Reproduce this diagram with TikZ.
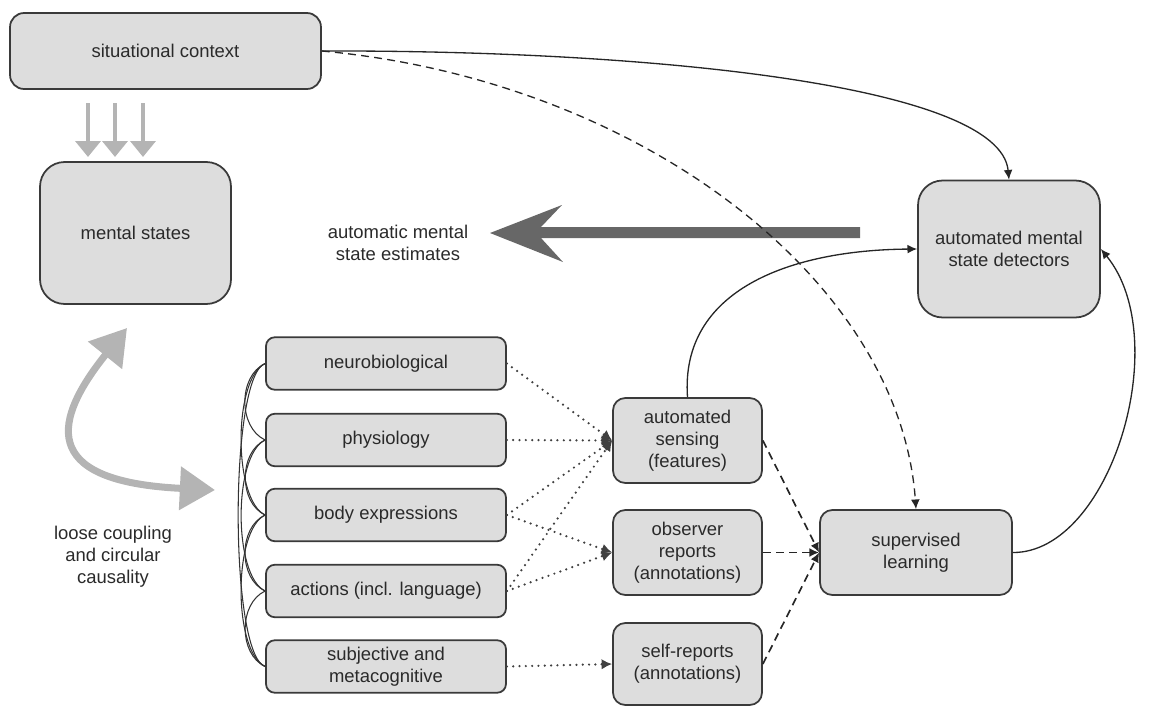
\documentclass[tikz,border=0pt]{standalone}
\usepackage{fontspec}
\setmainfont{Liberation Sans}
\usetikzlibrary{arrows.meta}
\definecolor{boxfill}{HTML}{DDDDDD}
\definecolor{boxdraw}{HTML}{3A3A3A}
\definecolor{txt}{HTML}{2A2A2A}
\definecolor{lgray}{HTML}{B4B4B4}
\definecolor{dgray}{HTML}{676767}
\tikzset{
  box/.style={draw=boxdraw, fill=boxfill, line width=1pt, text=txt, align=center,
    font=\fontsize{10.5}{12.6}\selectfont, inner sep=0pt},
  bigbox/.style={box, rounded corners=14pt},
  midbox/.style={box, rounded corners=7pt},
  sensbox/.style={box, rounded corners=5pt, minimum width=4.8cm, minimum height=1.05cm},
  lbl/.style={text=txt, align=center, font=\fontsize{10.5}{12.6}\selectfont},
  conn/.style={draw=black!85, line width=0.75pt, -{Latex[length=5.5pt,width=5pt]}},
  dashconn/.style={conn, dash pattern=on 4.5pt off 3pt},
  thickdash/.style={conn, line width=0.95pt, dash pattern=on 4.5pt off 3pt},
  dotconn/.style={draw=black!75, line width=1.4pt, dash pattern=on 0pt off 3.6pt, line cap=round,
    -{Latex[length=6pt,width=6pt,line cap=butt]}},
  bracket/.style={draw=black!80, line width=0.6pt},
  gray3/.style={draw=lgray, line width=2.4pt, -{Triangle[length=9pt,width=14pt]}},
}
\begin{document}
\begin{tikzpicture}[x=0.02cm,y=-0.02cm]
\useasboundingbox (0,0) rectangle (1150,707);
% main boxes
\node[box, rounded corners=8pt, minimum width=6.22cm, minimum height=1.52cm] (sit) at (165.5,51) {situational context};
\node[bigbox, minimum width=3.82cm, minimum height=2.84cm] (ment) at (135.5,233) {mental states};
\node[bigbox, minimum width=3.64cm, minimum height=2.74cm] (det) at (1009,249) {automated mental\\state detectors};
% sensor boxes
\node[sensbox] (neuro) at (386,363.5) {neurobiological};
\node[sensbox] (phys) at (386,440) {physiology};
\node[sensbox] (body) at (386,515) {body expressions};
\node[sensbox] (act) at (386,591) {actions (incl. language)};
\node[sensbox] (subj) at (386,666.5) {subjective and\\metacognitive};
% middle boxes
\node[midbox, minimum width=2.98cm, minimum height=1.70cm] (sens) at (687.5,440.5) {automated\\sensing\\(features)};
\node[midbox, minimum width=2.98cm, minimum height=1.70cm] (obs) at (687.5,552.5) {observer\\reports\\(annotations)};
\node[midbox, minimum width=2.98cm, minimum height=1.64cm] (self) at (687.5,664) {self-reports\\(annotations)};
\node[midbox, minimum width=3.84cm, minimum height=1.70cm] (sup) at (916,552.5) {supervised\\learning};
% labels
\node[lbl] (est) at (398,243) {automatic mental\\state estimates};
\node[lbl] (loose) at (113,557) {loose coupling\\and circular\\causality};
% big dark arrow
\fill[dgray] (490,233) -- (562,205) -- (541,227) -- (860,227) -- (860,238) -- (541,238) -- (563,262) -- cycle;
% three gray arrows
\foreach \xx in {88,115,143} { \draw[gray3] (\xx,103) -- (\xx,157); }
% curved gray double arrow
\draw[draw=lgray, line width=4pt, {Triangle[length=20pt,width=24pt]}-{Triangle[length=20pt,width=24pt]}]
  (127,328) .. controls (45,430) and (50,482) .. (215,490);
% bracket curves between sensor boxes
\draw[bracket] (neuro.west) to[out=205,in=155] (phys.west);
\draw[bracket] (phys.west) to[out=205,in=155] (body.west);
\draw[bracket] (body.west) to[out=205,in=155] (act.west);
\draw[bracket] (act.west) to[out=205,in=155] (subj.west);
\draw[bracket] (neuro.west) to[out=205,in=155,looseness=0.6] (body.west);
\draw[bracket] (phys.west) to[out=205,in=155,looseness=0.6] (act.west);
\draw[bracket] (body.west) to[out=205,in=155,looseness=0.6] (subj.west);
\draw[bracket] (neuro.west) to[out=198,in=162,looseness=0.32] (subj.west);
% dotted connectors
\draw[dotconn] (neuro.east) -- (sens.west);
\draw[dotconn] (phys.east) -- (sens.west);
\draw[dotconn] (body.east) -- (sens.west);
\draw[dotconn] (act.east) -- (sens.west);
\draw[dotconn] (body.east) -- (obs.west);
\draw[dotconn] (act.east) -- (obs.west);
\draw[dotconn] (subj.east) -- (self.west);
% dashed connectors
\draw[thickdash] (sens.east) -- (sup.west);
\draw[thickdash] (obs.east) -- (sup.west);
\draw[thickdash] (self.east) -- (sup.west);
% situational context to detectors and supervised learning
\draw[conn] (sit.east) .. controls (650,50) and (1000,85) .. (det.north);
\draw[dashconn] (sit.east) .. controls (640,80) and (900,280) .. (sup.north);
% sensing to detectors
\draw[conn] (sens.north) .. controls (680,290) and (790,250) .. (det.west);
% supervised learning to detectors
\draw[conn] (sup.east) .. controls (1110,553) and (1175,340) .. (det.east);
\end{tikzpicture}
\end{document}
